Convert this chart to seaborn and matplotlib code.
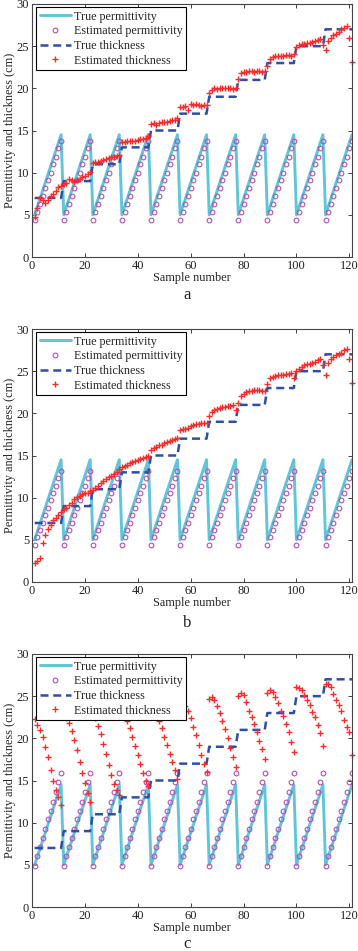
import numpy as np
import pandas as pd
import matplotlib
matplotlib.use("Agg")
import matplotlib.pyplot as plt
import seaborn as sns

# ── Data ──────────────────────────────────────────────────────────────────────
sample = np.arange(1, 122)

true_perm = [
    5.0, 5.95, 6.9, 7.85, 8.8, 9.75, 10.7, 11.65, 12.6, 13.55, 14.5,
    5.0, 5.95, 6.9, 7.85, 8.8, 9.75, 10.7, 11.65, 12.6, 13.55, 14.5,
    5.0, 5.95, 6.9, 7.85, 8.8, 9.75, 10.7, 11.65, 12.6, 13.55, 14.5,
    5.0, 5.95, 6.9, 7.85, 8.8, 9.75, 10.7, 11.65, 12.6, 13.55, 14.5,
    5.0, 5.95, 6.9, 7.85, 8.8, 9.75, 10.7, 11.65, 12.6, 13.55, 14.5,
    5.0, 5.95, 6.9, 7.85, 8.8, 9.75, 10.7, 11.65, 12.6, 13.55, 14.5,
    5.0, 5.95, 6.9, 7.85, 8.8, 9.75, 10.7, 11.65, 12.6, 13.55, 14.5,
    5.0, 5.95, 6.9, 7.85, 8.8, 9.75, 10.7, 11.65, 12.6, 13.55, 14.5,
    5.0, 5.95, 6.9, 7.85, 8.8, 9.75, 10.7, 11.65, 12.6, 13.55, 14.5,
    5.0, 5.95, 6.9, 7.85, 8.8, 9.75, 10.7, 11.65, 12.6, 13.55, 14.5,
    5.0, 5.95, 6.9, 7.85, 8.8, 9.75, 10.7, 11.65, 12.6, 13.55, 14.5,
]

true_thick = [
    7, 7, 7, 7, 7, 7, 7, 7, 7, 7, 7,
    9, 9, 9, 9, 9, 9, 9, 9, 9, 9, 9,
    11, 11, 11, 11, 11, 11, 11, 11, 11, 11, 11,
    13, 13, 13, 13, 13, 13, 13, 13, 13, 13, 13,
    15, 15, 15, 15, 15, 15, 15, 15, 15, 15, 15,
    17, 17, 17, 17, 17, 17, 17, 17, 17, 17, 17,
    19, 19, 19, 19, 19, 19, 19, 19, 19, 19, 19,
    21, 21, 21, 21, 21, 21, 21, 21, 21, 21, 21,
    23, 23, 23, 23, 23, 23, 23, 23, 23, 23, 23,
    25, 25, 25, 25, 25, 25, 25, 25, 25, 25, 25,
    27, 27, 27, 27, 27, 27, 27, 27, 27, 27, 27,
]

est_perm_a = [
    4.4, 5.3, 6.3, 7.2, 8.2, 9.1, 10.0, 11.0, 11.9, 12.9, 13.8,
    4.4, 5.3, 6.3, 7.2, 8.2, 9.1, 10.0, 11.0, 11.9, 12.9, 13.8,
    4.4, 5.3, 6.3, 7.2, 8.2, 9.1, 10.0, 11.0, 11.9, 12.9, 13.8,
    4.4, 5.3, 6.3, 7.2, 8.2, 9.1, 10.0, 11.0, 11.9, 12.9, 13.8,
    4.4, 5.3, 6.3, 7.2, 8.2, 9.1, 10.0, 11.0, 11.9, 12.9, 13.8,
    4.4, 5.3, 6.3, 7.2, 8.2, 9.1, 10.0, 11.0, 11.9, 12.9, 13.8,
    4.4, 5.3, 6.3, 7.2, 8.2, 9.1, 10.0, 11.0, 11.9, 12.9, 13.8,
    4.4, 5.3, 6.3, 7.2, 8.2, 9.1, 10.0, 11.0, 11.9, 12.9, 13.8,
    4.4, 5.3, 6.3, 7.2, 8.2, 9.1, 10.0, 11.0, 11.9, 12.9, 13.8,
    4.4, 5.3, 6.3, 7.2, 8.2, 9.1, 10.0, 11.0, 11.9, 12.9, 13.8,
    4.4, 5.3, 6.3, 7.2, 8.2, 9.1, 10.0, 11.0, 11.9, 12.9, 13.8,
]

est_perm_b = [
    4.4, 5.3, 6.2, 7.0, 7.9, 8.8, 9.7, 10.6, 11.4, 12.3, 13.2,
    4.4, 5.3, 6.2, 7.0, 7.9, 8.8, 9.7, 10.6, 11.4, 12.3, 13.2,
    4.4, 5.3, 6.2, 7.0, 7.9, 8.8, 9.7, 10.6, 11.4, 12.3, 13.2,
    4.4, 5.3, 6.2, 7.0, 7.9, 8.8, 9.7, 10.6, 11.4, 12.3, 13.2,
    4.4, 5.3, 6.2, 7.0, 7.9, 8.8, 9.7, 10.6, 11.4, 12.3, 13.2,
    4.4, 5.3, 6.2, 7.0, 7.9, 8.8, 9.7, 10.6, 11.4, 12.3, 13.2,
    4.4, 5.3, 6.2, 7.0, 7.9, 8.8, 9.7, 10.6, 11.4, 12.3, 13.2,
    4.4, 5.3, 6.2, 7.0, 7.9, 8.8, 9.7, 10.6, 11.4, 12.3, 13.2,
    4.4, 5.3, 6.2, 7.0, 7.9, 8.8, 9.7, 10.6, 11.4, 12.3, 13.2,
    4.4, 5.3, 6.2, 7.0, 7.9, 8.8, 9.7, 10.6, 11.4, 12.3, 13.2,
    4.4, 5.3, 6.2, 7.0, 7.9, 8.8, 9.7, 10.6, 11.4, 12.3, 13.2,
]

est_perm_c = [
    4.9, 6.0, 7.1, 8.2, 9.3, 10.4, 11.4, 12.5, 13.6, 14.8, 15.9,
    4.9, 6.0, 7.1, 8.2, 9.3, 10.4, 11.4, 12.5, 13.6, 14.8, 15.9,
    4.9, 6.0, 7.1, 8.2, 9.3, 10.4, 11.4, 12.5, 13.6, 14.8, 15.9,
    4.9, 6.0, 7.1, 8.2, 9.3, 10.4, 11.4, 12.5, 13.6, 14.8, 15.9,
    4.9, 6.0, 7.1, 8.2, 9.3, 10.4, 11.4, 12.5, 13.6, 14.8, 15.9,
    4.9, 6.0, 7.1, 8.2, 9.3, 10.4, 11.4, 12.5, 13.6, 14.8, 15.9,
    4.9, 6.0, 7.1, 8.2, 9.3, 10.4, 11.4, 12.5, 13.6, 14.8, 15.9,
    4.9, 6.0, 7.1, 8.2, 9.3, 10.4, 11.4, 12.5, 13.6, 14.8, 15.9,
    4.9, 6.0, 7.1, 8.2, 9.3, 10.4, 11.4, 12.5, 13.6, 14.8, 15.9,
    4.9, 6.0, 7.1, 8.2, 9.3, 10.4, 11.4, 12.5, 13.6, 14.8, 15.9,
    4.9, 6.0, 7.1, 8.2, 9.3, 10.4, 11.4, 12.5, 13.6, 14.8, 15.9,
]

est_thick_a = [
    4.8, 5.8, 7.0, 6.7, 6.4, 6.8, 7.2, 7.5, 7.8, 8.3, 8.4,
    8.6, 8.8, 9.3, 9.1, 8.9, 9.1, 9.3, 9.5, 9.6, 9.9, 10.1,
    11.2, 11.3, 11.3, 11.4, 11.5, 11.6, 11.7, 11.8, 11.9, 12.0, 12.1,
    13.6, 13.6, 13.7, 13.7, 13.8, 13.8, 13.9, 14.0, 14.0, 14.1, 14.3,
    15.8, 15.9, 15.6, 15.9, 16.0, 16.0, 16.0, 16.1, 16.2, 16.3, 16.5,
    17.8, 17.8, 17.9, 17.4, 18.2, 18.0, 18.1, 18.0, 17.9, 18.0, 18.0,
    19.5, 19.8, 20.0, 19.9, 20.0, 20.0, 20.0, 20.0, 20.0, 19.9, 20.0,
    21.1, 21.8, 21.9, 21.9, 22.0, 22.0, 21.9, 22.0, 22.0, 21.9, 22.0,
    22.6, 23.5, 23.7, 23.8, 23.8, 23.8, 23.8, 23.9, 24.0, 23.8, 24.1,
    24.9, 25.1, 25.2, 25.3, 25.4, 25.4, 25.5, 25.6, 25.7, 25.8, 25.1,
    24.5, 25.6, 26.0, 26.3, 26.5, 26.7, 27.0, 27.2, 27.4, 26.0, 23.1,
]

est_thick_b = [
    2.2, 2.5, 2.8, 4.6, 5.6, 6.3, 6.8, 7.3, 7.6, 8.0, 8.3,
    8.6, 8.8, 9.1, 9.4, 9.8, 10.1, 10.2, 10.4, 10.5, 10.6, 10.8,
    10.9, 11.1, 11.4, 11.7, 12.0, 12.2, 12.4, 12.6, 12.8, 13.1, 13.4,
    13.6, 13.8, 13.9, 14.1, 14.2, 14.4, 14.5, 14.6, 14.7, 14.8, 14.9,
    15.7, 15.9, 16.0, 16.2, 16.3, 16.5, 16.6, 16.7, 16.8, 17.0, 17.1,
    18.0, 18.1, 18.1, 18.3, 18.5, 18.6, 18.7, 18.7, 18.8, 18.9, 18.9,
    19.7, 20.1, 20.4, 20.5, 20.6, 20.7, 20.8, 20.9, 20.9, 21.0, 20.4,
    21.2, 22.0, 22.3, 22.5, 22.6, 22.7, 22.8, 22.8, 22.8, 22.7, 22.6,
    23.5, 24.2, 24.3, 24.4, 24.5, 24.5, 24.6, 24.7, 24.7, 24.8, 24.2,
    25.0, 25.3, 25.5, 25.7, 25.8, 25.9, 26.0, 26.1, 26.3, 26.4, 25.7,
    24.6, 26.0, 26.4, 26.7, 26.9, 27.0, 27.2, 27.5, 27.6, 26.4, 23.6,
]

est_thick_c = [
    22.3, 21.6, 21.0, 20.1, 19.0, 17.8, 16.3, 14.9, 13.9, 13.1, 12.1,
    22.7, 22.4, 21.8, 20.9, 19.8, 18.6, 17.2, 15.9, 14.7, 13.5, 12.4,
    22.9, 22.4, 21.5, 20.5, 19.3, 18.1, 16.8, 15.6, 14.6, 13.9, 13.3,
    23.2, 22.8, 22.1, 21.2, 20.2, 19.1, 18.0, 16.9, 15.9, 15.0, 14.3,
    23.6, 23.3, 22.8, 22.1, 21.2, 20.2, 19.2, 18.2, 17.2, 16.2, 15.2,
    24.0, 24.1, 23.8, 23.2, 22.4, 21.4, 20.4, 19.2, 18.0, 17.0, 16.0,
    24.7, 24.9, 24.5, 23.8, 23.0, 22.1, 21.1, 20.0, 18.9, 17.8, 16.6,
    25.0, 25.4, 25.1, 24.3, 23.3, 22.5, 21.7, 20.7, 19.7, 18.7, 17.5,
    25.4, 25.7, 25.5, 24.9, 24.2, 23.3, 22.6, 21.7, 20.7, 19.6, 18.4,
    26.1, 26.0, 25.7, 25.1, 24.6, 23.9, 23.1, 22.5, 21.6, 20.6, 19.1,
    26.4, 26.4, 26.1, 25.3, 24.6, 23.9, 23.3, 22.2, 21.4, 20.8, 18.0,
]

panel_letters = ["a", "b", "c"]
x_ticks = [0, 20, 40, 60, 80, 100, 120]
y_ticks = [0, 5, 10, 15, 20, 25, 30]

# ── Style ─────────────────────────────────────────────────────────────────────
CYAN    = "#5fc6da"
MAGENTA = "#b54fb8"
BLUE    = "#2f4fa6"
RED     = "#ff2a2a"

sns.set_theme(style="ticks")
plt.rcParams["font.family"] = ["Liberation Serif", "DejaVu Serif"]

W, H = 358, 951
fig = plt.figure(figsize=(W / 100, H / 100), dpi=100)

# (axes top px, axes bottom px, letter y px)
layout = [(4, 257, 295), (329, 582, 623), (654, 907, 944)]
est_perm = [est_perm_a, est_perm_b, est_perm_c]
est_thick = [est_thick_a, est_thick_b, est_thick_c]

for (top, bot, ly), ep, et, letter in zip(layout, est_perm, est_thick, panel_letters):
    ax = fig.add_axes([32 / W, 1 - bot / H, 320 / W, (bot - top) / H])
    df = pd.DataFrame({"sample": sample, "true_perm": true_perm,
                       "est_perm": ep, "true_thick": true_thick, "est_thick": et})

    sns.lineplot(data=df, x="sample", y="true_perm", ax=ax, color=CYAN,
                 linewidth=2.1, label="True permittivity", errorbar=None)
    sns.lineplot(data=df, x="sample", y="est_perm", ax=ax, linestyle="",
                 marker="o", markersize=3.4, markerfacecolor="none",
                 markeredgecolor=MAGENTA, markeredgewidth=0.8, color=MAGENTA,
                 label="Estimated permittivity", errorbar=None)
    sns.lineplot(data=df, x="sample", y="true_thick", ax=ax, color=BLUE,
                 linewidth=1.8, linestyle=(0, (3.2, 1.9)),
                 label="True thickness", errorbar=None)
    sns.lineplot(data=df, x="sample", y="est_thick", ax=ax, linestyle="",
                 marker="+", markersize=4.8, markeredgecolor=RED,
                 markeredgewidth=1.0, color=RED, clip_on=False,
                 label="Estimated thickness", errorbar=None)

    ax.set_xlim(0, 121)
    ax.set_ylim(0, 30)
    ax.set_xticks(x_ticks)
    ax.set_yticks(y_ticks)
    ax.tick_params(direction="in", top=True, right=True, length=3, width=0.6,
                   labelsize=9, pad=2, colors="#222222")
    for sp in ax.spines.values():
        sp.set_linewidth(0.8)
        sp.set_color("#444444")
    ax.set_xlabel("Sample number", fontsize=8.8, labelpad=0.5)
    ax.set_ylabel("Permittivity and thickness (cm)", fontsize=8.8, labelpad=0.5)

    leg = ax.legend(loc="upper left", bbox_to_anchor=(4 / 320, 1 - 3 / 253),
                    borderaxespad=0, frameon=True, fancybox=False,
                    edgecolor="black", framealpha=1, fontsize=8.7,
                    handlelength=2.6, handletextpad=0.25, labelspacing=0.22,
                    borderpad=0.3)
    leg.get_frame().set_linewidth(0.8)

    fig.text(187 / W, 1 - ly / H, letter, ha="center", va="center", fontsize=12)

fig.savefig("out.png", dpi=100)
